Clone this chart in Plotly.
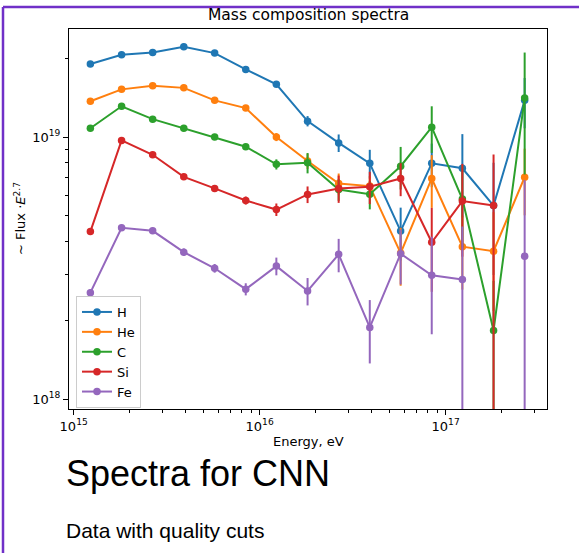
import plotly.graph_objects as go

# ---- data ----
energy = [1.23e15, 1.81e15, 2.66e15, 3.91e15, 5.73e15, 8.42e15, 1.23e16, 1.81e16,
          2.66e16, 3.91e16, 5.73e16, 8.42e16, 1.23e17, 1.81e17, 2.66e17]

H = [1.90e19, 2.06e19, 2.10e19, 2.21e19, 2.09e19, 1.81e19, 1.59e19, 1.15e19,
     9.5e18, 7.94e18, 4.38e18, 7.94e18, 7.6e18, 5.48e18, 1.38e19]
H_err_up = [2e17, 2e17, 2e17, 2.5e17, 2.5e17, 3e17, 3e17, 5.2e17,
            7.3e17, 1.0e18, 1.0e18, 1.5e18, 2.66e18, 2.5e18, 3e18]
H_err_dn = H_err_up

He = [1.37e19, 1.52e19, 1.57e19, 1.54e19, 1.38e19, 1.29e19, 1.00e19, 8.1e18,
      6.65e18, 6.50e18, 3.61e18, 6.95e18, 3.82e18, 3.67e18, 7.03e18]
He_err_up = [1.5e17, 1.5e17, 1.5e17, 1.5e17, 1.5e17, 2e17, 3.5e17, 5.4e17,
             6.1e17, 6e17, 9e17, 1.58e18, 1.2e18, 1.5e18, 2e18]
He_err_dn = He_err_up

C = [1.08e19, 1.31e19, 1.17e19, 1.08e19, 1.00e19, 9.19e18, 7.87e18, 7.98e18,
     6.31e18, 6.05e18, 7.74e18, 1.09e19, 5.80e18, 1.83e18, 1.41e19]
C_err_up = [1.5e17, 1.5e17, 1.5e17, 1.5e17, 1.5e17, 2e17, 3.5e17, 7.1e17,
            6e17, 7.5e17, 1.43e18, 2.2e18, 2e18, 1.0e18, 6.9e18]
C_err_dn = C_err_up

Si = [4.36e18, 9.71e18, 8.56e18, 7.05e18, 6.37e18, 5.73e18, 5.29e18, 6.04e18,
      6.37e18, 6.46e18, 6.95e18, 3.97e18, 5.70e18, 5.48e18, None]
Si_err_up = [1e17, 1.5e17, 1.5e17, 1.5e17, 1.5e17, 2e17, 2.9e17, 4.4e17,
             7.6e17, 9.1e17, 1.0e18, 1.4e18, 2.2e18, 3.1e18, 0]
Si_err_dn = [1e17, 1.5e17, 1.5e17, 1.5e17, 1.5e17, 2e17, 2.9e17, 4.4e17,
             7.6e17, 9.1e17, 1.0e18, 1.4e18, 2.2e18, 5.3e18, 0]

Fe = [2.55e18, 4.51e18, 4.39e18, 3.64e18, 3.16e18, 2.63e18, 3.22e18, 2.59e18,
      3.57e18, 1.88e18, 3.59e18, 2.97e18, 2.86e18, None, 3.51e18]
Fe_err_up = [8e16, 1.2e17, 1.2e17, 1.2e17, 1.2e17, 1.4e17, 2.5e17, 3.1e17,
             5.2e17, 5.1e17, 8.5e17, 1.2e18, 1.7e18, 0, 3.34e18]
Fe_err_dn = [8e16, 1.2e17, 1.2e17, 1.2e17, 1.2e17, 1.4e17, 2.5e17, 3.1e17,
             5.2e17, 5.1e17, 8.5e17, 1.2e18, 2.7e18, 0, 3.35e18]

names = ["H", "He", "C", "Si", "Fe"]
colors = ["#1f77b4", "#ff7f0e", "#2ca02c", "#d62728", "#9467bd"]
series = [(H, H_err_up, H_err_dn), (He, He_err_up, He_err_dn), (C, C_err_up, C_err_dn),
          (Si, Si_err_up, Si_err_dn), (Fe, Fe_err_up, Fe_err_dn)]

x_major = [1e15, 1e16, 1e17]
x_major_text = ["10<sup>15</sup>", "10<sup>16</sup>", "10<sup>17</sup>"]
x_minor = [m * 10 ** e for e in (15, 16) for m in range(2, 10)] + [2e17, 3e17]
y_major = [1e18, 1e19]
y_major_text = ["10<sup>18</sup>", "10<sup>19</sup>"]
y_minor = [m * 1e18 for m in range(2, 10)] + [2e19]

# ---- layout geometry (pixels) ----
W, H_PX = 579, 553
L, R, T, B = 69, 547, 29, 409


def px(xp):
    return (xp - L) / (R - L)


def py(yp):
    return (B - yp) / (B - T)


fig = go.Figure()
for name, col, (vals, eu, ed) in zip(names, colors, series):
    fig.add_trace(go.Scatter(
        x=energy, y=vals, name=name, mode="lines+markers",
        line=dict(color=col, width=2),
        marker=dict(color=col, size=7.5),
        error_y=dict(type="data", symmetric=False, array=eu, arrayminus=ed,
                     color=col, thickness=2, width=0),
    ))

tickfont = dict(family="DejaVu Sans", size=13, color="black")
axis_common = dict(type="log", showline=True, linecolor="black", linewidth=1, mirror=True,
                   ticks="outside", ticklen=5, tickwidth=1, tickcolor="black",
                   showgrid=False, zeroline=False, tickfont=tickfont, tickmode="array")

fig.update_layout(
    width=W, height=H_PX,
    margin=dict(l=L, r=W - R, t=T, b=H_PX - B, pad=0),
    paper_bgcolor="white", plot_bgcolor="white",
    showlegend=True,
    legend=dict(x=px(76), y=py(296), xanchor="left", yanchor="top",
                bgcolor="rgba(255,255,255,0.8)", bordercolor="#cccccc", borderwidth=1,
                font=dict(family="DejaVu Sans", size=13, color="black")),
    xaxis=dict(axis_common, range=[14.975, 17.545], tickvals=x_major, ticktext=x_major_text,
               minor=dict(tickvals=x_minor, ticks="outside", ticklen=3, tickwidth=0.8,
                          tickcolor="black", showgrid=False)),
    yaxis=dict(axis_common, range=[17.963, 19.412], tickvals=y_major, ticktext=y_major_text,
               minor=dict(tickvals=y_minor, ticks="outside", ticklen=3, tickwidth=0.8,
                          tickcolor="black", showgrid=False)),
)

annos = [
    dict(text="Mass composition spectra", x=0.5, y=py(15), xanchor="center", yanchor="middle",
         font=dict(family="DejaVu Sans", size=15.5, color="black")),
    dict(text="~ Flux ·<i>E</i><sup>2.7</sup>", x=px(20), y=0.5, xanchor="center", yanchor="middle",
         textangle=-90, font=dict(family="DejaVu Sans", size=13, color="black")),
    dict(text="Energy, eV", x=0.5, y=py(441), xanchor="center", yanchor="middle",
         font=dict(family="DejaVu Sans", size=13, color="black")),
    dict(text="Spectra for CNN", x=px(64), y=py(473), xanchor="left", yanchor="middle",
         font=dict(family="Liberation Sans", size=36, color="black")),
    dict(text="Data with quality cuts", x=px(64), y=py(530), xanchor="left", yanchor="middle",
         font=dict(family="Liberation Sans", size=21, color="black")),
]
for a in annos:
    fig.add_annotation(xref="paper", yref="paper", showarrow=False, **a)

border = "#7030c8"
fig.add_shape(type="line", xref="paper", yref="paper", x0=px(3), x1=px(3), y0=py(7), y1=py(553),
              line=dict(color=border, width=2.5))
fig.add_shape(type="line", xref="paper", yref="paper", x0=px(3), x1=px(579), y0=py(7), y1=py(7),
              line=dict(color=border, width=2.5))

fig.write_html("out.html")
